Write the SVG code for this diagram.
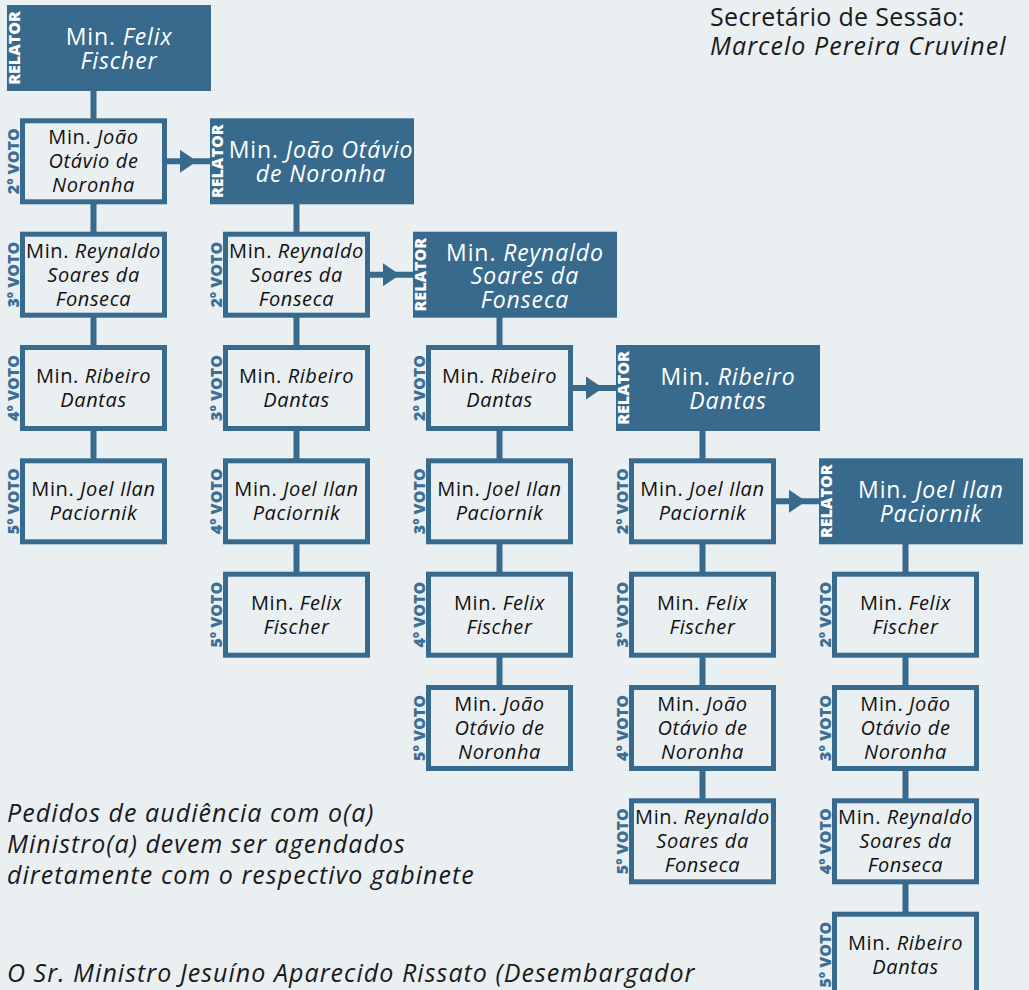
<svg xmlns="http://www.w3.org/2000/svg" width="1029" height="990" viewBox="0 0 1029 990">
<defs>
<style>
.bg{fill:#eaeff2}
.rel{fill:#386a8e}
.box{fill:#eaeff2;stroke:#386a8e;stroke-width:5}
.conn{stroke:#386a8e;stroke-width:6;fill:none}
.t{font-family:"Open Sans","Noto Sans","DejaVu Sans",sans-serif;font-style:italic;text-anchor:middle}
.bt{font-size:20px;fill:#111;letter-spacing:0.6px}
.rt{font-size:23px;fill:#ffffff;letter-spacing:0.9px}
.n{font-style:normal}
.lab{font-family:"Open Sans","Noto Sans","DejaVu Sans",sans-serif;font-weight:800;font-size:16px;text-anchor:middle}
.vl{fill:#3d6e94}
.rl{fill:#ffffff}
.note{font-family:"Open Sans","Noto Sans","DejaVu Sans",sans-serif;font-size:25px;fill:#1a1a1a}
.it{font-style:italic;letter-spacing:1.05px}
</style>
<marker id="ah" markerUnits="userSpaceOnUse" markerWidth="17" markerHeight="23" refX="17" refY="11.5" orient="auto">
<path d="M0,0 L17,11.5 L0,23 Z" fill="#386a8e"/>
</marker>
</defs>
<rect class="bg" x="0" y="0" width="1029" height="990"/>

<g id="connectors">
<line class="conn" x1="93.5" y1="90" x2="93.5" y2="501"/>
<line class="conn" x1="296.5" y1="204" x2="296.5" y2="615"/>
<line class="conn" x1="499.5" y1="317" x2="499.5" y2="728"/>
<line class="conn" x1="702.5" y1="431" x2="702.5" y2="841"/>
<line class="conn" x1="905.5" y1="544" x2="905.5" y2="955"/>
<polyline class="conn" points="165,161.3 197,161.3 211,161.3" marker-mid="url(#ah)"/>
<polyline class="conn" points="368,274.7 400,274.7 414,274.7" marker-mid="url(#ah)"/>
<polyline class="conn" points="571,388 603,388 617,388" marker-mid="url(#ah)"/>
<polyline class="conn" points="774,501.3 806,501.3 820,501.3" marker-mid="url(#ah)"/>
</g>

<!-- Column 0 -->
<g id="c0-relator">
<rect class="rel" x="7" y="5" width="204" height="86"/>
<text class="lab rl" transform="translate(19.5,48) rotate(-90)">RELATOR</text>
<text class="t rt"><tspan x="119" y="45"><tspan class="n">Min.</tspan> Felix</tspan><tspan x="119" y="69">Fischer</tspan></text>
</g>
<g id="c0-v2">
<rect class="box" x="22.5" y="120.8" width="142" height="81"/>
<text class="lab vl" transform="translate(18.5,161.3) rotate(-90)">2º VOTO</text>
<text class="t bt"><tspan x="93.5" y="144.3"><tspan class="n">Min.</tspan> João</tspan><tspan x="93.5" y="168.3">Otávio de</tspan><tspan x="93.5" y="192.3">Noronha</tspan></text>
</g>
<g id="c0-v3">
<rect class="box" x="22.5" y="234.2" width="142" height="81"/>
<text class="lab vl" transform="translate(18.5,274.7) rotate(-90)">3º VOTO</text>
<text class="t bt"><tspan x="93.5" y="257.7"><tspan class="n">Min.</tspan> Reynaldo</tspan><tspan x="93.5" y="281.7">Soares da</tspan><tspan x="93.5" y="305.7">Fonseca</tspan></text>
</g>
<g id="c0-v4">
<rect class="box" x="22.5" y="347.5" width="142" height="81"/>
<text class="lab vl" transform="translate(18.5,388) rotate(-90)">4º VOTO</text>
<text class="t bt"><tspan x="93.5" y="383"><tspan class="n">Min.</tspan> Ribeiro</tspan><tspan x="93.5" y="407">Dantas</tspan></text>
</g>
<g id="c0-v5">
<rect class="box" x="22.5" y="460.8" width="142" height="81"/>
<text class="lab vl" transform="translate(18.5,501.3) rotate(-90)">5º VOTO</text>
<text class="t bt"><tspan x="93.5" y="496.3"><tspan class="n">Min.</tspan> Joel Ilan</tspan><tspan x="93.5" y="520.3">Paciornik</tspan></text>
</g>

<!-- Column 1 -->
<g id="c1-relator">
<rect class="rel" x="210" y="118.3" width="204" height="86"/>
<text class="lab rl" transform="translate(222.5,161.3) rotate(-90)">RELATOR</text>
<text class="t rt"><tspan x="321" y="158.3"><tspan class="n">Min.</tspan> João Otávio</tspan><tspan x="321" y="182.3">de Noronha</tspan></text>
</g>
<g id="c1-v2">
<rect class="box" x="225.5" y="234.2" width="142" height="81"/>
<text class="lab vl" transform="translate(221.5,274.7) rotate(-90)">2º VOTO</text>
<text class="t bt"><tspan x="296.5" y="257.7"><tspan class="n">Min.</tspan> Reynaldo</tspan><tspan x="296.5" y="281.7">Soares da</tspan><tspan x="296.5" y="305.7">Fonseca</tspan></text>
</g>
<g id="c1-v3">
<rect class="box" x="225.5" y="347.5" width="142" height="81"/>
<text class="lab vl" transform="translate(221.5,388) rotate(-90)">3º VOTO</text>
<text class="t bt"><tspan x="296.5" y="383"><tspan class="n">Min.</tspan> Ribeiro</tspan><tspan x="296.5" y="407">Dantas</tspan></text>
</g>
<g id="c1-v4">
<rect class="box" x="225.5" y="460.8" width="142" height="81"/>
<text class="lab vl" transform="translate(221.5,501.3) rotate(-90)">4º VOTO</text>
<text class="t bt"><tspan x="296.5" y="496.3"><tspan class="n">Min.</tspan> Joel Ilan</tspan><tspan x="296.5" y="520.3">Paciornik</tspan></text>
</g>
<g id="c1-v5">
<rect class="box" x="225.5" y="574.2" width="142" height="81"/>
<text class="lab vl" transform="translate(221.5,614.7) rotate(-90)">5º VOTO</text>
<text class="t bt"><tspan x="296.5" y="609.7"><tspan class="n">Min.</tspan> Felix</tspan><tspan x="296.5" y="633.7">Fischer</tspan></text>
</g>

<!-- Column 2 -->
<g id="c2-relator">
<rect class="rel" x="413" y="231.7" width="204" height="86"/>
<text class="lab rl" transform="translate(425.5,274.7) rotate(-90)">RELATOR</text>
<text class="t rt"><tspan x="525" y="260.7"><tspan class="n">Min.</tspan> Reynaldo</tspan><tspan x="525" y="284.2">Soares da</tspan><tspan x="525" y="307.7">Fonseca</tspan></text>
</g>
<g id="c2-v2">
<rect class="box" x="428.5" y="347.5" width="142" height="81"/>
<text class="lab vl" transform="translate(424.5,388) rotate(-90)">2º VOTO</text>
<text class="t bt"><tspan x="499.5" y="383"><tspan class="n">Min.</tspan> Ribeiro</tspan><tspan x="499.5" y="407">Dantas</tspan></text>
</g>
<g id="c2-v3">
<rect class="box" x="428.5" y="460.8" width="142" height="81"/>
<text class="lab vl" transform="translate(424.5,501.3) rotate(-90)">3º VOTO</text>
<text class="t bt"><tspan x="499.5" y="496.3"><tspan class="n">Min.</tspan> Joel Ilan</tspan><tspan x="499.5" y="520.3">Paciornik</tspan></text>
</g>
<g id="c2-v4">
<rect class="box" x="428.5" y="574.2" width="142" height="81"/>
<text class="lab vl" transform="translate(424.5,614.7) rotate(-90)">4º VOTO</text>
<text class="t bt"><tspan x="499.5" y="609.7"><tspan class="n">Min.</tspan> Felix</tspan><tspan x="499.5" y="633.7">Fischer</tspan></text>
</g>
<g id="c2-v5">
<rect class="box" x="428.5" y="687.5" width="142" height="81"/>
<text class="lab vl" transform="translate(424.5,728) rotate(-90)">5º VOTO</text>
<text class="t bt"><tspan x="499.5" y="711"><tspan class="n">Min.</tspan> João</tspan><tspan x="499.5" y="735">Otávio de</tspan><tspan x="499.5" y="759">Noronha</tspan></text>
</g>

<!-- Column 3 -->
<g id="c3-relator">
<rect class="rel" x="616" y="345" width="204" height="86"/>
<text class="lab rl" transform="translate(628.5,388) rotate(-90)">RELATOR</text>
<text class="t rt"><tspan x="728" y="385"><tspan class="n">Min.</tspan> Ribeiro</tspan><tspan x="728" y="409">Dantas</tspan></text>
</g>
<g id="c3-v2">
<rect class="box" x="631.5" y="460.8" width="142" height="81"/>
<text class="lab vl" transform="translate(627.5,501.3) rotate(-90)">2º VOTO</text>
<text class="t bt"><tspan x="702.5" y="496.3"><tspan class="n">Min.</tspan> Joel Ilan</tspan><tspan x="702.5" y="520.3">Paciornik</tspan></text>
</g>
<g id="c3-v3">
<rect class="box" x="631.5" y="574.2" width="142" height="81"/>
<text class="lab vl" transform="translate(627.5,614.7) rotate(-90)">3º VOTO</text>
<text class="t bt"><tspan x="702.5" y="609.7"><tspan class="n">Min.</tspan> Felix</tspan><tspan x="702.5" y="633.7">Fischer</tspan></text>
</g>
<g id="c3-v4">
<rect class="box" x="631.5" y="687.5" width="142" height="81"/>
<text class="lab vl" transform="translate(627.5,728) rotate(-90)">4º VOTO</text>
<text class="t bt"><tspan x="702.5" y="711"><tspan class="n">Min.</tspan> João</tspan><tspan x="702.5" y="735">Otávio de</tspan><tspan x="702.5" y="759">Noronha</tspan></text>
</g>
<g id="c3-v5">
<rect class="box" x="631.5" y="800.8" width="142" height="81"/>
<text class="lab vl" transform="translate(627.5,841.3) rotate(-90)">5º VOTO</text>
<text class="t bt"><tspan x="702.5" y="824.3"><tspan class="n">Min.</tspan> Reynaldo</tspan><tspan x="702.5" y="848.3">Soares da</tspan><tspan x="702.5" y="872.3">Fonseca</tspan></text>
</g>

<!-- Column 4 -->
<g id="c4-relator">
<rect class="rel" x="819" y="458.3" width="204" height="86"/>
<text class="lab rl" transform="translate(831.5,501.3) rotate(-90)">RELATOR</text>
<text class="t rt"><tspan x="931" y="498.3"><tspan class="n">Min.</tspan> Joel Ilan</tspan><tspan x="931" y="522.3">Paciornik</tspan></text>
</g>
<g id="c4-v2">
<rect class="box" x="834.5" y="574.2" width="142" height="81"/>
<text class="lab vl" transform="translate(830.5,614.7) rotate(-90)">2º VOTO</text>
<text class="t bt"><tspan x="905.5" y="609.7"><tspan class="n">Min.</tspan> Felix</tspan><tspan x="905.5" y="633.7">Fischer</tspan></text>
</g>
<g id="c4-v3">
<rect class="box" x="834.5" y="687.5" width="142" height="81"/>
<text class="lab vl" transform="translate(830.5,728) rotate(-90)">3º VOTO</text>
<text class="t bt"><tspan x="905.5" y="711"><tspan class="n">Min.</tspan> João</tspan><tspan x="905.5" y="735">Otávio de</tspan><tspan x="905.5" y="759">Noronha</tspan></text>
</g>
<g id="c4-v4">
<rect class="box" x="834.5" y="800.8" width="142" height="81"/>
<text class="lab vl" transform="translate(830.5,841.3) rotate(-90)">4º VOTO</text>
<text class="t bt"><tspan x="905.5" y="824.3"><tspan class="n">Min.</tspan> Reynaldo</tspan><tspan x="905.5" y="848.3">Soares da</tspan><tspan x="905.5" y="872.3">Fonseca</tspan></text>
</g>
<g id="c4-v5">
<rect class="box" x="834.5" y="914.2" width="142" height="81"/>
<text class="lab vl" transform="translate(830.5,954.7) rotate(-90)">5º VOTO</text>
<text class="t bt"><tspan x="905.5" y="949.7"><tspan class="n">Min.</tspan> Ribeiro</tspan><tspan x="905.5" y="973.7">Dantas</tspan></text>
</g>

<g id="notes">
<text class="note" x="710" y="26" letter-spacing="0.33">Secretário de Sessão:</text>
<text class="note it" x="710" y="55" letter-spacing="0.9">Marcelo Pereira Cruvinel</text>
<text class="note it"><tspan x="7" y="822">Pedidos de audiência com o(a)</tspan><tspan x="7" y="853">Ministro(a) devem ser agendados</tspan><tspan x="7" y="884">diretamente com o respectivo gabinete</tspan></text>
<text class="note it" x="7" y="982" letter-spacing="1.2">O Sr. Ministro Jesuíno Aparecido Rissato (Desembargador</text>
</g>
</svg>
